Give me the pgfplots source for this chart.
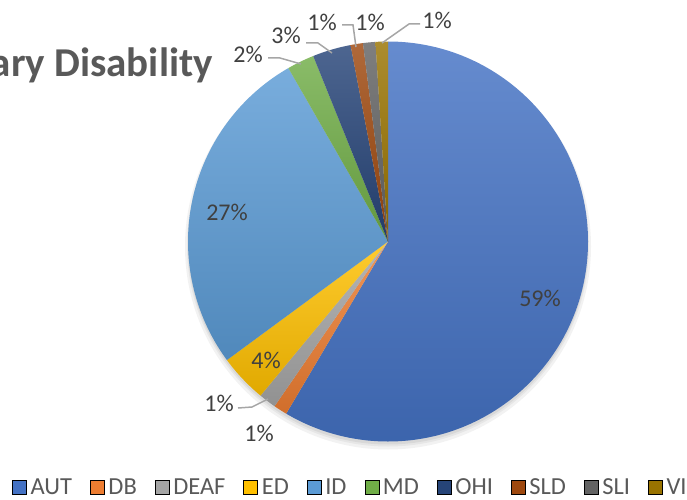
\documentclass[border=0pt]{standalone}
\usepackage{pgfplots}
\pgfplotsset{compat=1.18}
\usepackage{fontspec}
\setmainfont{Carlito}

\definecolor{cAUT}{HTML}{4472C4}
\definecolor{cDB}{HTML}{ED7D31}
\definecolor{cDEAF}{HTML}{A5A5A5}
\definecolor{cED}{HTML}{FFC000}
\definecolor{cID}{HTML}{5B9BD5}
\definecolor{cMD}{HTML}{70AD47}
\definecolor{cOHI}{HTML}{264478}
\definecolor{cSLD}{HTML}{9E480E}
\definecolor{cSLI}{HTML}{636363}
\definecolor{cVI}{HTML}{997300}
\definecolor{labtext}{HTML}{404040}
\definecolor{legtext}{HTML}{595959}
\definecolor{leader}{HTML}{A6A6A6}

% pie centre and radius in axis units (1 unit = 1pt)
\def\cx{388}
\def\cy{257.5}
\def\rr{200}
\def\startangle{90}
% \slice{percent}{colour}
\newcommand\slice[2]{%
  \pgfmathsetmacro\endangle{\startangle-3.6*#1}%
  \pgfmathsetmacro\sx{\cx+\rr*cos(\startangle)}%
  \pgfmathsetmacro\sy{\cy+\rr*sin(\startangle)}%
  \edef\temp{\noexpand\path[top color=#2!82!white, bottom color=#2!88!black]
    (axis cs:\cx,\cy) -- (axis cs:\sx,\sy)
    arc[start angle=\startangle, end angle=\endangle, radius=\rr pt] -- cycle;}%
  \temp
  \global\let\startangle\endangle}

\begin{document}
\begin{tikzpicture}
\useasboundingbox (0,0) rectangle (687pt,499pt);
\clip (0,0) rectangle (687pt,499pt);
\begin{axis}[
  x=1pt, y=1pt,
  xmin=0, xmax=687, ymin=0, ymax=499,
  hide axis, clip=false,
  legend image code/.code={\fill[#1] (0pt,-7pt) rectangle (14pt,7pt);},
  legend style={
    at={(axis cs:12,12)}, anchor=west,
    draw=none, fill=none, inner sep=0pt,
    legend columns=-1,
    font=\fontsize{24.5}{28}\selectfont,
    text=legtext,
    nodes={inner xsep=2pt, inner ysep=0pt},
    /tikz/every odd column/.append style={column sep=2pt},
    /tikz/every even column/.append style={column sep=16pt},
  },
]
% soft shadow
\fill[black, opacity=0.05] (axis cs:\cx,\cy-5) circle[radius=203pt];
\fill[black, opacity=0.05] (axis cs:\cx,\cy-4) circle[radius=201pt];
\fill[black, opacity=0.06] (axis cs:\cx,\cy-3) circle[radius=200pt];

% data (percent of students by primary disability)
\slice{58.5}{cAUT}
\slice{1.1}{cDB}
\slice{1.4}{cDEAF}
\slice{3.9}{cED}
\slice{26.8}{cID}
\slice{2.2}{cMD}
\slice{3.1}{cOHI}
\slice{1.0}{cSLD}
\slice{1.0}{cSLI}
\slice{1.0}{cVI}

% leader lines
\draw[leader, line width=1.5pt] (axis cs:238,91) -- (axis cs:252,92) -- (axis cs:268,100);
\draw[leader, line width=1.5pt] (axis cs:268,441) -- (axis cs:280,441) -- (axis cs:301,435);
\draw[leader, line width=1.5pt] (axis cs:306,456) -- (axis cs:318,456) -- (axis cs:332,446);
\draw[leader, line width=1.5pt] (axis cs:342,474) -- (axis cs:353,474) -- (axis cs:356,452);
\draw[leader, line width=1.5pt] (axis cs:420,475) -- (axis cs:409,475) -- (axis cs:382,456);

% data labels
\begin{scope}[every node/.style={font=\fontsize{24}{28}\selectfont, text=labtext, inner sep=0pt}]
\node at (axis cs:540,201) {59\%};
\node at (axis cs:227,287) {27\%};
\node at (axis cs:266,139) {4\%};
\node at (axis cs:219,96) {1\%};
\node at (axis cs:259,66) {1\%};
\node at (axis cs:248,445) {2\%};
\node at (axis cs:286,464) {3\%};
\node at (axis cs:322,477) {1\%};
\node at (axis cs:370,477) {1\%};
\node at (axis cs:437,479) {1\%};
\end{scope}

% title (cut off at the left edge in the reference)
\node[anchor=base east, font=\fontsize{41}{48}\selectfont\bfseries, text=legtext, inner sep=0pt]
  at (axis cs:213,422) {ary Disability};

\addlegendimage{fill=cAUT}
\addlegendimage{fill=cDB}
\addlegendimage{fill=cDEAF}
\addlegendimage{fill=cED}
\addlegendimage{fill=cID}
\addlegendimage{fill=cMD}
\addlegendimage{fill=cOHI}
\addlegendimage{fill=cSLD}
\addlegendimage{fill=cSLI}
\addlegendimage{fill=cVI}
\legend{AUT,DB,DEAF,ED,ID,MD,OHI,SLD,SLI,VI}
\end{axis}
\end{tikzpicture}
\end{document}
